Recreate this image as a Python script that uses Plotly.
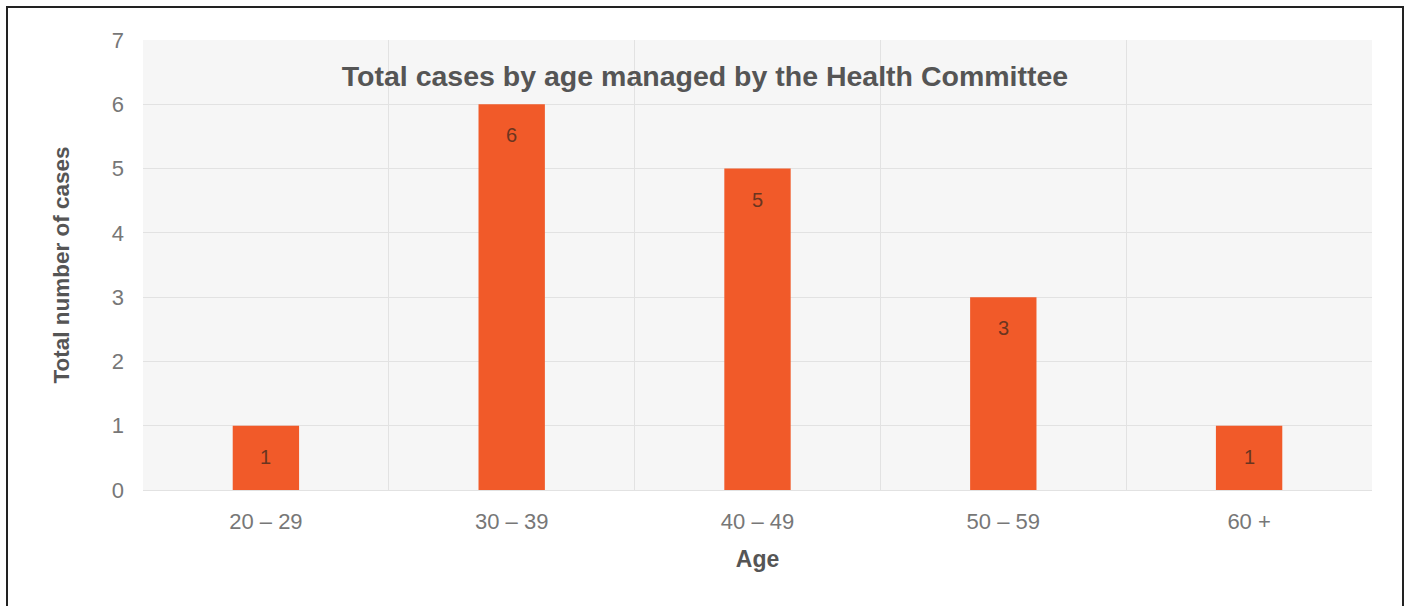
import plotly.graph_objects as go

# Age bands and the number of cases in each
age_groups = ["20 – 29", "30 – 39", "40 – 49", "50 – 59", "60 +"]
case_counts = [1, 6, 5, 3, 1]
y_ticks = [0, 1, 2, 3, 4, 5, 6, 7]

FONT = "Liberation Sans, Arial, Helvetica, sans-serif"

fig = go.Figure(
    go.Bar(
        x=age_groups,
        y=case_counts,
        marker=dict(color="#F15A29", line=dict(width=0)),
        width=0.27,
        hoverinfo="x+y",
    )
)

# Value labels sitting just under the top of each bar
for grp, val in zip(age_groups, case_counts):
    fig.add_annotation(
        x=grp,
        y=val,
        text=str(val),
        showarrow=False,
        yanchor="middle",
        yshift=-31,
        font=dict(family=FONT, size=20, color="#6a3520"),
    )

fig.update_layout(
    width=1410,
    height=606,
    margin=dict(l=143, r=38, t=40, b=116),
    paper_bgcolor="white",
    plot_bgcolor="#f6f6f6",
    showlegend=False,
    font=dict(family=FONT, color="#777777"),
    title=dict(
        text="<b>Total cases by age managed by the Health Committee</b>",
        x=0.5,
        xref="container",
        xanchor="center",
        y=1 - 76 / 606,
        yref="container",
        yanchor="middle",
        font=dict(family=FONT, size=28.5, color="#555555"),
    ),
)

fig.update_xaxes(
    type="category",
    tickson="boundaries",
    showgrid=True,
    gridcolor="#e2e2e2",
    gridwidth=1,
    ticks="",
    showline=False,
    zeroline=False,
    tickfont=dict(family=FONT, size=22, color="#777777"),
    title=dict(text="<b>Age</b>", font=dict(family=FONT, size=23, color="#555555"), standoff=17),
    ticklabelstandoff=16,
)

fig.update_yaxes(
    range=[0, 7],
    tickvals=y_ticks,
    showgrid=True,
    gridcolor="#e2e2e2",
    gridwidth=1,
    zeroline=True,
    zerolinecolor="#e2e2e2",
    zerolinewidth=1,
    ticks="",
    showline=False,
    tickfont=dict(family=FONT, size=22, color="#777777"),
    title=dict(
        text="<b>Total number of cases</b>",
        font=dict(family=FONT, size=22.5, color="#555555"),
        standoff=35,
    ),
    ticklabelstandoff=18,
)

# Frame drawn around the whole figure
plot_w = 1410 - 143 - 38
plot_h = 606 - 40 - 116
fig.add_shape(
    type="rect",
    xref="paper",
    yref="paper",
    x0=(7 - 143) / plot_w,
    x1=(1403 - 143) / plot_w,
    y0=(490 - 630) / plot_h,
    y1=(490 - 7) / plot_h,
    line=dict(color="#222222", width=2),
    fillcolor="rgba(0,0,0,0)",
    layer="above",
)

fig.write_html("out.html")
